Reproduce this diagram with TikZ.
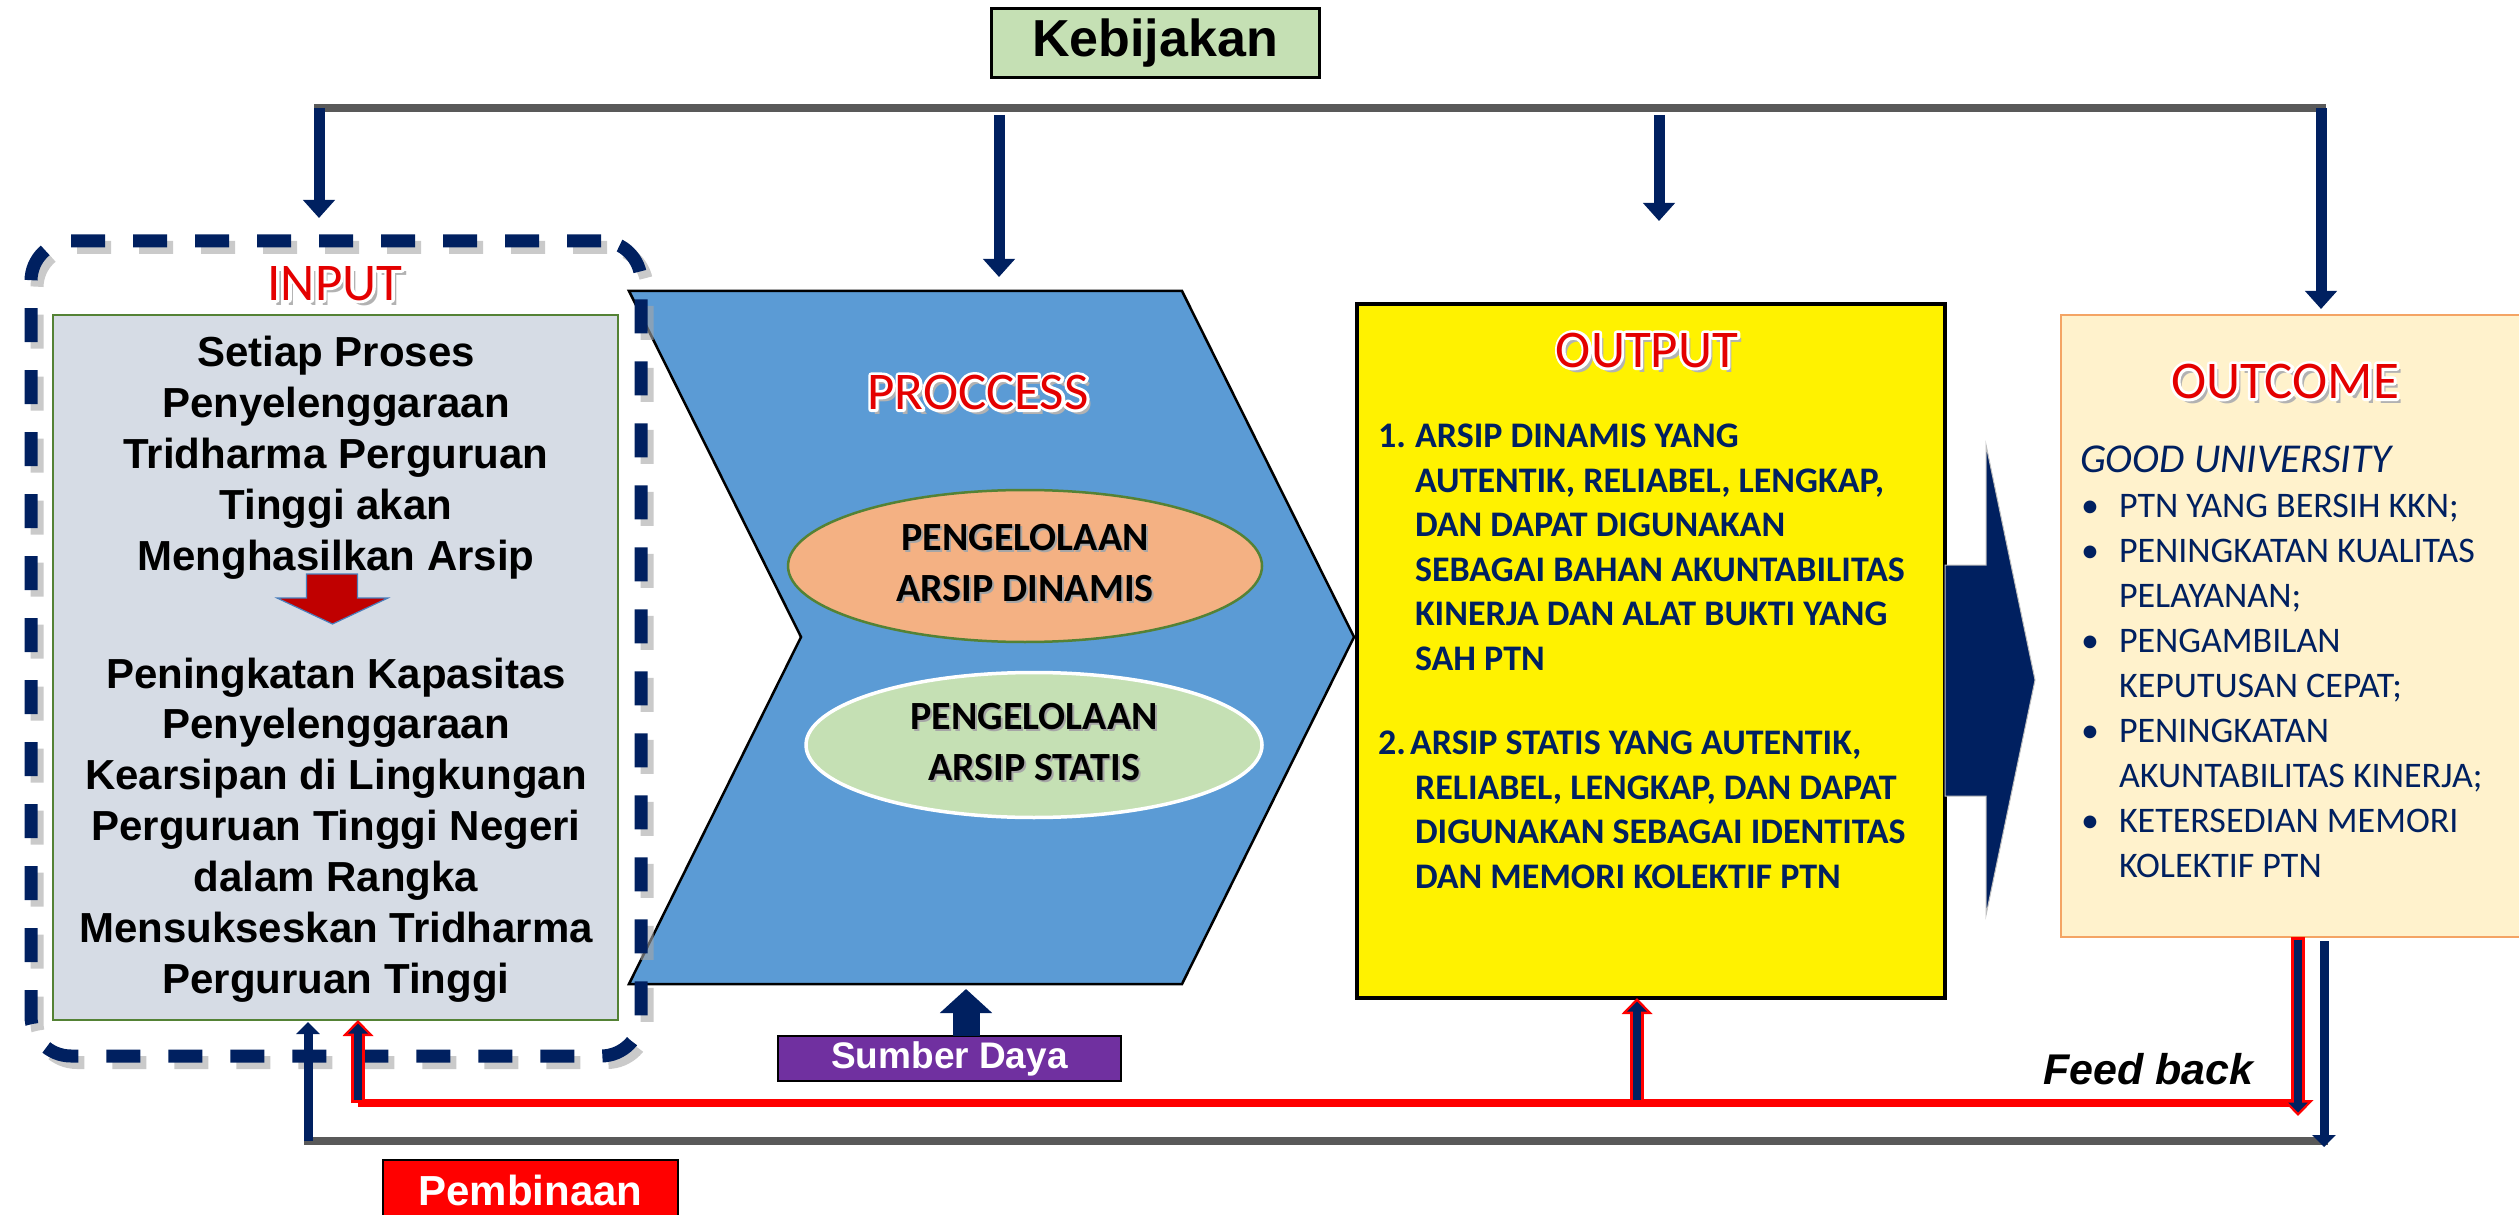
\documentclass[tikz,border=0pt]{standalone}
\usepackage{fontspec}
\setmainfont{Liberation Sans}
\newfontfamily\calfont{Carlito}
\usetikzlibrary{arrows.meta,calc,shapes.geometric}

\definecolor{navy}{RGB}{0,32,96}
\definecolor{linegray}{RGB}{89,89,89}
\definecolor{chevblue}{RGB}{91,155,213}
\definecolor{inboxfill}{RGB}{214,220,229}
\definecolor{ingreen}{RGB}{84,130,53}
\definecolor{kebgreen}{RGB}{197,224,180}
\definecolor{peach}{RGB}{244,177,131}
\definecolor{mint}{RGB}{197,224,180}
\definecolor{cream}{RGB}{255,242,204}
\definecolor{orangeedge}{RGB}{244,164,100}
\definecolor{sdpurple}{RGB}{112,48,160}
\definecolor{titlered}{RGB}{228,0,0}
\definecolor{darkred}{RGB}{192,0,0}
\definecolor{arrowedge}{RGB}{74,126,187}

% red title lettering with a stroked white rim and soft grey shadow
\newcommand\wordart[1]{%
  \rlap{\kern0.45mm\raisebox{-0.55mm}{\color{black!30}#1}}%
  \rlap{\color{white}\special{pdf:literal direct 1.6 w 1 j 2 Tr}#1\special{pdf:literal direct 0 Tr}}%
  {\color{titlered}#1}}
% dark lettering with a faint drop shadow
\newcommand\softshadow[1]{\rlap{\kern0.2mm\raisebox{-0.2mm}{\color{black!35}#1}}#1}

\begin{document}
\begin{tikzpicture}[x=0.1mm,y=-0.1mm,
  every node/.style={outer sep=0pt},
  grayline/.style={draw=linegray,line width=0.8mm},
  navyarrow/.style={draw=navy,line width=1.1mm,-{Triangle[width=3.1mm,length=1.8mm]}},
  thinarrow/.style={draw=navy,line width=0.9mm,-{Triangle[width=2.3mm,length=1.2mm]}},
  fbout/.style={draw=red,line width=1.4mm,-{Triangle[width=3.0mm,length=1.6mm]}},
  fbin/.style={draw=navy,line width=0.8mm,-{Triangle[width=1.9mm,length=1.0mm]},shorten >=0.35mm,shorten <=0.3mm},
  redline/.style={draw=red,line width=0.75mm},
  dashbox/.style={line width=1.3mm,dash pattern=on 3.4mm off 2.8mm,rounded corners=4mm,
    minimum width=61mm,minimum height=81.5mm,inner sep=0},
  title/.style={font=\calfont\fontsize{15.08}{18}\selectfont,inner sep=0},
  intext/.style={font=\bfseries\fontsize{11.95}{14.51}\selectfont,inner sep=0},
  outtext/.style={font=\calfont\bfseries\fontsize{10.24}{12.69}\selectfont,text=navy,inner sep=0,anchor=base west},
  bultext/.style={font=\calfont\fontsize{10.24}{12.8}\selectfont,text=navy,inner sep=0,anchor=base west},
  elltext/.style={font=\calfont\bfseries\fontsize{11.38}{14.51}\selectfont,inner sep=0},
  tagbox/.style={draw=black,inner sep=0,font=\bfseries}
]
\useasboundingbox (0,0) rectangle (2519,1215);

% ---------- PROCESS chevron ----------
\draw[fill=chevblue,draw=black,line width=0.25mm]
  (629,291) -- (1182,291) -- (1354,637) -- (1182,984) -- (629,984) -- (801,637) -- cycle;
\coordinate (proct) at (999,291);
\coordinate (procb) at (966,984);

% ---------- INPUT ----------
\node[dashbox,draw=black!35,opacity=0.6] (inshadow) at (342,655) {};
\node[dashbox,draw=navy] (inputbox) at (336,648.5) {};
\node[draw=ingreen,line width=0.2mm,fill=inboxfill,minimum width=56.5mm,minimum height=70.5mm,inner sep=0]
  (inbox) at (335.5,667.5) {};
\node[title] (tin) at (335,286) {\wordart{INPUT}};
\node[intext,anchor=base] (in1) at (336,367) {\begin{tabular}[t]{@{}c@{}}
  Setiap Proses\\Penyelenggaraan\\Tridharma Perguruan\\Tinggi akan\\Menghasilkan Arsip\end{tabular}};
\node[intext,anchor=base] (in2) at (336,688) {\begin{tabular}[t]{@{}c@{}}
  Peningkatan Kapasitas\\Penyelenggaraan\\Kearsipan di Lingkungan\\Perguruan Tinggi Negeri\\
  dalam Rangka\\Mensukseskan Tridharma\\Perguruan Tinggi\end{tabular}};
\draw[fill=darkred,draw=arrowedge,line width=0.12mm]
  (306.5,574) -- (357.5,574) -- (357.5,598) -- (388,598) -- (332.5,624) -- (277,598) -- (306.5,598) -- cycle;

% ---------- PROCESS contents ----------
\node[title] (tproc) at (978,395) {\wordart{PROCCESS}};
\node[ellipse,draw=ingreen,line width=0.25mm,fill=peach,minimum width=47.4mm,minimum height=15.2mm,inner sep=0]
  (ell1) at (1025,566) {};
\node[elltext] (ell1t) at (ell1.center) {\begin{tabular}{@{}c@{}}\softshadow{PENGELOLAAN}\\\softshadow{ARSIP DINAMIS}\end{tabular}};
\node[ellipse,draw=white,line width=0.35mm,fill=mint,minimum width=45.6mm,minimum height=14.5mm,inner sep=0]
  (ell2) at (1034,745) {};
\node[elltext] (ell2t) at (ell2.center) {\begin{tabular}{@{}c@{}}\softshadow{PENGELOLAAN}\\\softshadow{ARSIP STATIS}\end{tabular}};

% ---------- OUTPUT ----------
\node[draw=black,line width=0.4mm,fill=yellow,minimum width=58.8mm,minimum height=69.4mm,inner sep=0]
  (output) at (1651,651) {};
\node[title] (tout) at (1647,353) {\wordart{OUTPUT}};
\node[outtext] (out1) at (1378,447.5) {\begin{tabular}[t]{@{}l@{}}
  \makebox[3.7mm][l]{1.}ARSIP DINAMIS YANG\\
  \hspace*{3.7mm}AUTENTIK, RELIABEL, LENGKAP,\\
  \hspace*{3.7mm}DAN DAPAT DIGUNAKAN\\
  \hspace*{3.7mm}SEBAGAI BAHAN AKUNTABILITAS\\
  \hspace*{3.7mm}KINERJA DAN ALAT BUKTI YANG\\
  \hspace*{3.7mm}SAH PTN\end{tabular}};
\node[outtext] (out2) at (1378,754.5) {\begin{tabular}[t]{@{}l@{}}
  \makebox[3.2mm][l]{2.}ARSIP STATIS YANG AUTENTIK,\\
  \hspace*{3.7mm}RELIABEL, LENGKAP, DAN DAPAT\\
  \hspace*{3.7mm}DIGUNAKAN SEBAGAI IDENTITAS\\
  \hspace*{3.7mm}DAN MEMORI KOLEKTIF PTN\end{tabular}};
% block arrow towards the outcome
\draw[fill=navy,draw=white!75!black,line width=0.1mm]
  (1945,565) -- (1986,565) -- (1986,445) -- (2035,680) -- (1986,915) -- (1986,796) -- (1945,796) -- cycle;

% ---------- OUTCOME ----------
\node[draw=orangeedge,line width=0.25mm,fill=cream,minimum width=47.9mm,minimum height=62.2mm,inner sep=0]
  (outcome) at (2300.5,626) {};
\node[title] (toc) at (2285,384) {\wordart{OUTCOME}};
\node[bultext,font=\calfont\itshape\fontsize{11.67}{13}\selectfont] (good) at (2080,473) {GOOD UNIVERSITY};
\node[bultext] (bul) at (2081,517.5) {\begin{tabular}[t]{@{}l@{}}
  \makebox[3.8mm][l]{•}PTN YANG BERSIH KKN;\\
  \makebox[3.8mm][l]{•}PENINGKATAN KUALITAS\\
  \hspace*{3.8mm}PELAYANAN;\\
  \makebox[3.8mm][l]{•}PENGAMBILAN\\
  \hspace*{3.8mm}KEPUTUSAN CEPAT;\\
  \makebox[3.8mm][l]{•}PENINGKATAN\\
  \hspace*{3.8mm}AKUNTABILITAS KINERJA;\\
  \makebox[3.8mm][l]{•}KETERSEDIAN MEMORI\\
  \hspace*{3.8mm}KOLEKTIF PTN\end{tabular}};

% ---------- Kebijakan (policy) distribution ----------
\node[tagbox,line width=0.3mm,fill=kebgreen,minimum width=32.8mm,minimum height=6.9mm,
  font=\bfseries\fontsize{14.8}{16}\selectfont] (keb) at (1155,43.5) {Kebijakan};
\coordinate (k1) at (319,108);
\coordinate (k2) at (999,115);
\coordinate (k3) at (1659,115);
\coordinate (k4) at (2321,108);
\draw[grayline] ($(k1)+(-5,0)$) -- ($(k4)+(5,0)$);
\draw[navyarrow,shorten >=2.3mm] (k1) -- (k1 |- inputbox.north);
\draw[navyarrow,shorten >=1.4mm] (k2) -- (proct);
\draw[navyarrow,shorten >=8.3mm] (k3) -- (k3 |- output.north);
\draw[navyarrow,shorten >=0.6mm] (k4) -- (k4 |- outcome.north);

% ---------- resources ----------
\node[tagbox,line width=0.2mm,fill=sdpurple,text=white,minimum width=34.3mm,minimum height=4.5mm,
  font=\bfseries\fontsize{10.53}{12}\selectfont] (sumber) at (949.5,1058.5) {Sumber Daya};
\draw[draw=navy,line width=2.7mm,-{Triangle[width=5.1mm,length=2.4mm]},shorten >=0.5mm]
  (sumber.north -| procb) -- (procb);

% ---------- Pembinaan (guidance) loop ----------
\coordinate (b1) at (308,1141);
\coordinate (b4) at (2324,1141);
\coordinate (b4tip) at (2324,1147);
\draw[grayline] ($(b1)+(-4,0)$) -- ($(b4)+(4,0)$);
\draw[thinarrow,shorten >=0.2mm] (b1) -- (b1 |- inbox.south);
\draw[thinarrow,shorten <=0.4mm] (b4 |- outcome.south) -- (b4tip);
\node[tagbox,line width=0.2mm,fill=red,text=white,minimum width=29.5mm,minimum height=6mm,
  font=\bfseries\fontsize{11.95}{14}\selectfont] (pemb) at (530.5,1190) {Pembinaan};

% ---------- feedback loop ----------
\coordinate (f1) at (358,1103);
\coordinate (f2) at (1637,1103);
\coordinate (f3) at (2298,1103);
\coordinate (f3tip) at (2298,1116);
\draw[redline] (f1) -- (f3);
\draw[fbout] (f1) -- (f1 |- inbox.south);
\draw[fbin] (f1) -- (f1 |- inbox.south);
\draw[fbout] (f2) -- (f2 |- output.south);
\draw[fbin] (f2) -- (f2 |- output.south);
\draw[fbout] (f3 |- outcome.south) -- (f3tip);
\draw[fbin] (f3 |- outcome.south) -- (f3tip);
\node[inner sep=0,anchor=base west,font=\bfseries\itshape\fontsize{12.23}{14}\selectfont] (fbtxt)
  at (2043,1084) {Feed back};
\end{tikzpicture}
\end{document}
